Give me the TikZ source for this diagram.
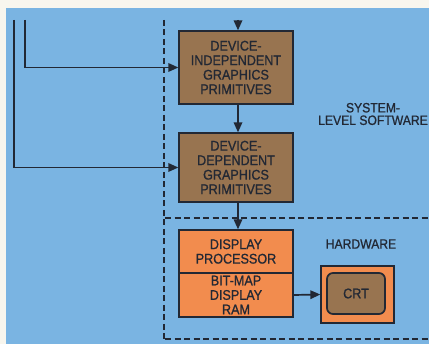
\documentclass[tikz,border=0pt]{standalone}
\usepackage{fontspec}
\setmainfont{Liberation Sans}
\newfontfamily\medfont{Liberation Sans}[FakeBold=0.9, FakeStretch=0.9]
\usetikzlibrary{arrows.meta}
\definecolor{bgblue}{RGB}{122,180,226}
\definecolor{boxbrown}{RGB}{152,116,80}
\definecolor{boxorange}{RGB}{242,140,78}
\definecolor{inkdark}{RGB}{34,40,52}
\definecolor{paper}{RGB}{248,246,238}
\tikzset{
  blk/.style={draw=inkdark, line width=1.3pt, inner sep=0pt, align=center,
    text=inkdark, font=\medfont\fontsize{14}{14.5}\selectfont, minimum width=114pt},
  brownblk/.style={blk, fill=boxbrown},
  orangeblk/.style={blk, fill=boxorange},
  conn/.style={draw=inkdark, line width=1.7pt, -{Triangle[length=10pt,width=8.5pt]}},
  dashln/.style={draw=inkdark, line width=1.1pt, dash pattern=on 6pt off 3.5pt},
  lbl/.style={text=inkdark, align=center, font=\medfont\fontsize{13.5}{12.5}\selectfont}
}
\begin{document}
\begin{tikzpicture}[x=1pt,y=-1pt]
\useasboundingbox (0,0) rectangle (429,344);
\fill[paper] (0,0) rectangle (429,344);
\fill[bgblue] (6,8) rectangle (429,344);
% dashed region borders
\draw[dashln] (164,20) -- (164,339);
\draw[dashln] (165,218) -- (429,218);
\draw[dashln] (165,339) -- (429,339);
% boxes
\node[brownblk, minimum height=73pt] (dip) at (236,67.5) {DEVICE-\\INDEPENDENT\\GRAPHICS\\PRIMITIVES};
\node[brownblk, minimum height=69pt] (ddp) at (236,167.5) {DEVICE-\\DEPENDENT\\GRAPHICS\\PRIMITIVES};
\node[orangeblk, minimum height=43pt] (dp) at (236,251.5) {DISPLAY\\PROCESSOR};
\node[orangeblk, minimum height=44pt] (ram) at (236,295) {BIT-MAP\\DISPLAY\\RAM};
\node[draw=inkdark, line width=1.3pt, fill=boxorange, minimum width=73pt, minimum height=57pt, inner sep=0pt] (crt) at (357.5,294.5) {};
\node[draw=inkdark, line width=1.7pt, fill=boxbrown, rounded corners=6pt, minimum width=58pt, minimum height=41pt, inner sep=0pt, text=inkdark, font=\medfont\fontsize{14}{14}\selectfont] (scr) at (356,293.5) {CRT};
% labels
\node[lbl] (sys) at (373,114) {SYSTEM-\\LEVEL SOFTWARE};
\node[lbl] (hw) at (361,244) {HARDWARE};
% connectors
\coordinate (top) at (238,20);
\coordinate (l1) at (25,20);
\coordinate (l2) at (14,20);
\draw[conn] (top) -- (top |- dip.north);
\draw[conn] (l1) |- (dip.west);
\draw[conn] (l2) |- (ddp.west);
\draw[conn] (dip.south -| top) -- (ddp.north -| top);
\draw[conn] (ddp.south -| top) -- (dp.north -| top);
\draw[conn] (ram.east) -- (crt.west);
\end{tikzpicture}
\end{document}
